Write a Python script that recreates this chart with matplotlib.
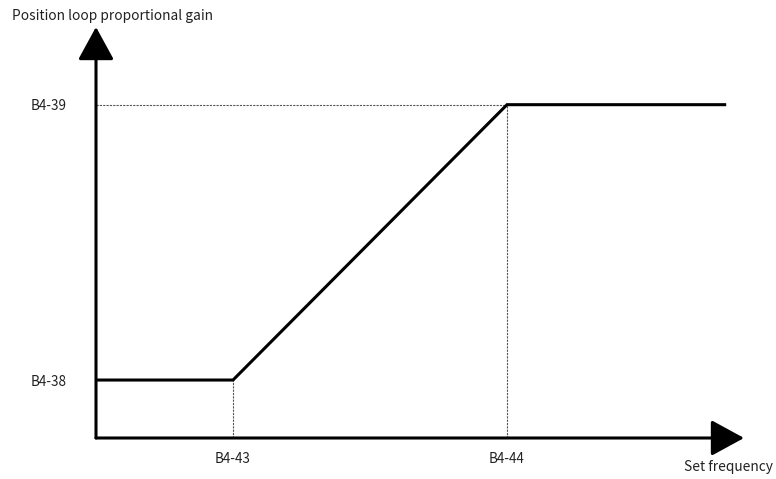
import matplotlib.pyplot as plt

plt.rcParams['font.family'] = ['Noto Sans CJK SC', 'DejaVu Sans']

# breakpoints of the gain curve (arbitrary units)
freq = [0.0, 1.0, 3.0, 4.6]
gain = [1.0, 1.0, 5.75, 5.75]
freq_ticks = [1.0, 3.0]
freq_labels = ['B4-43', 'B4-44']
gain_ticks = [1.0, 5.75]
gain_labels = ['B4-38', 'B4-39']
x_max = 4.73
y_max = 7.09

fig = plt.figure(figsize=(7.76, 4.79), dpi=100)
ax = fig.add_axes([96/776, 41/479, 648/776, 411/479])
ax.set_xlim(0, x_max)
ax.set_ylim(0, y_max)
for s in ax.spines.values():
    s.set_visible(False)

# guide lines
ax.plot([0, freq[2]], [gain[2], gain[2]], color='#555555', lw=0.8, ls=(0, (2, 1)))
ax.plot([freq[2], freq[2]], [0, gain[2]], color='#555555', lw=0.8, ls=(0, (2, 1)))
ax.plot([freq[1], freq[1]], [0, gain[1]], color='#555555', lw=0.8, ls=(0, (2, 1)))

# curve
ax.plot(freq, gain, color='black', lw=2.2, solid_capstyle='butt', solid_joinstyle='miter')

# axes arrows
arrow = dict(arrowstyle='-|>,head_length=2.05,head_width=1.12', lw=2.2, color='black',
             shrinkA=0, shrinkB=0, mutation_scale=10)
ax.annotate('', xy=(1, 0), xytext=(0, 0), xycoords='axes fraction', arrowprops=arrow,
            annotation_clip=False)
ax.annotate('', xy=(0, 1), xytext=(0, 0), xycoords='axes fraction', arrowprops=arrow,
            annotation_clip=False)

ax.set_xticks(freq_ticks, freq_labels)
ax.set_yticks(gain_ticks, gain_labels)
ax.tick_params(axis='x', length=0, pad=10, labelsize=9.7, colors='#222222')
ax.tick_params(axis='y', length=0, pad=21, labelsize=9.7, colors='#222222')

fig.text(12/776, 1 - 16/479, 'Position loop proportional gain', va='center', ha='left',
         fontsize=9.9, color='#222222')
fig.text(773/776, 1 - 467/479, 'Set frequency', va='center', ha='right',
         fontsize=9.9, color='#222222')

fig.savefig('out.png', dpi=100)
